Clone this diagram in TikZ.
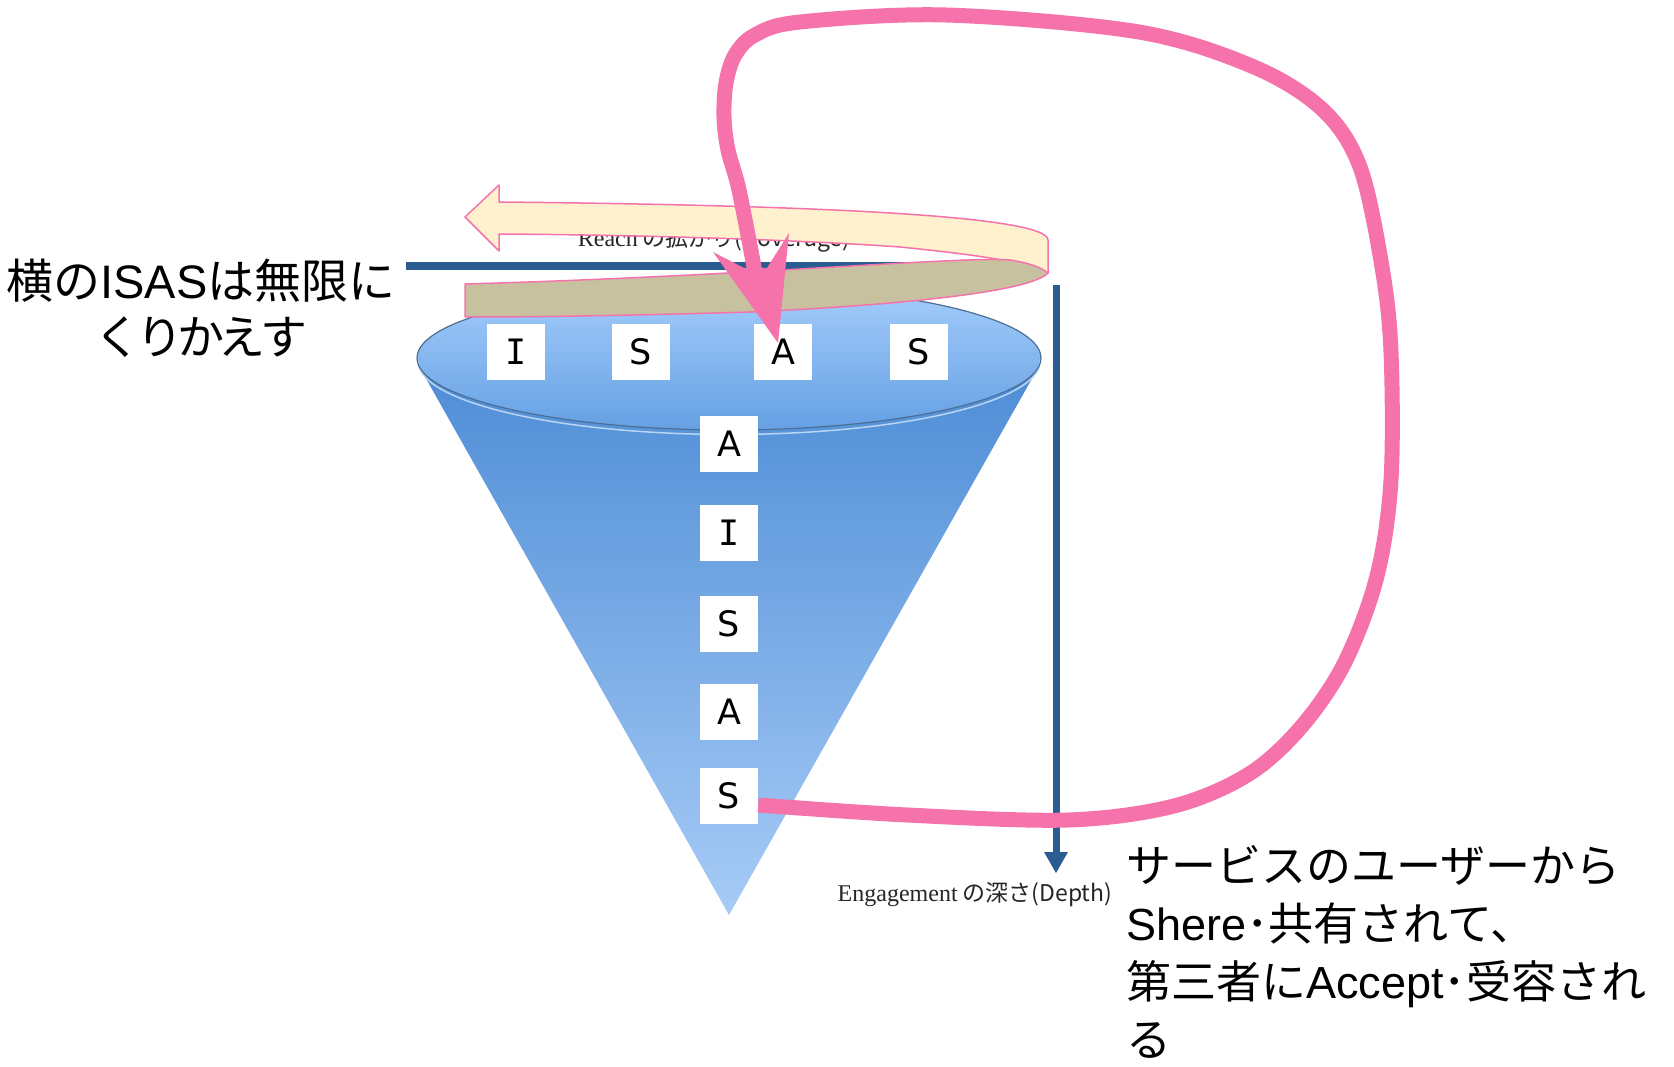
\documentclass[tikz,border=0pt]{standalone}
\usepackage{fontspec}
\setmainfont{Liberation Sans}
\newfontfamily\jp{Noto Sans CJK JP}
\newfontfamily\serifjp{Liberation Serif}
\newfontfamily\boxfont{DejaVu Sans}
\newfontfamily\boxmono{DejaVu Sans Mono}
\usetikzlibrary{calc}
\definecolor{pinkc}{HTML}{F573AA}
\definecolor{creamc}{HTML}{FFF1CD}
\definecolor{tanc}{HTML}{C8C1A0}
\definecolor{axisblue}{HTML}{2A5C91}
\definecolor{conetop}{HTML}{4E8DD6}
\definecolor{conebot}{HTML}{A7CBF6}
\definecolor{lidtop}{HTML}{A5CDFB}
\definecolor{lidbot}{HTML}{65A0E4}
\definecolor{rimc}{HTML}{4C6F96}
\begin{document}
\begin{tikzpicture}[x=1pt,y=-1pt,
  letterbox/.style={fill=white, minimum width=58pt, minimum height=56pt, inner sep=0pt,
    font=\boxfont\fontsize{35}{35}\selectfont},
  ribbon/.style={draw=pinkc, line width=1.5pt, line join=round},
  pinkline/.style={draw=pinkc, line width=15pt},
  axisline/.style={draw=axisblue, line width=8pt},
  smalllabel/.style={inner sep=0pt, text=black!85}
]
\useasboundingbox (0,0) rectangle (1674,1067);

% cone body
\shade[top color=conetop, bottom color=conebot] (419.6,367.3) -- (729,915) -- (1038.4,367.3) -- cycle;
% lid
\shade[top color=lidtop, bottom color=lidbot] (729,358) ellipse [x radius=312, y radius=72];
\begin{scope}
  \clip (400,362) rectangle (1060,450);
  \draw[white!55!lidbot, line width=1.5pt] (729,361.5) ellipse [x radius=311, y radius=73];
\end{scope}
\draw[rimc, line width=1.2pt] (729,358) ellipse [x radius=312, y radius=72];

% letters
\node[letterbox] (t1) at (516,352) {\boxmono I};
\node[letterbox] (t2) at (641,352) {S};
\node[letterbox] (t3) at (783,352) {A};
\node[letterbox] (t4) at (919,352) {S};
\node[letterbox] (c1) at (729,444) {A};
\node[letterbox] (c2) at (729,533) {\boxmono I};
\node[letterbox] (c3) at (729,624) {S};
\node[letterbox] (c4) at (729,712) {A};
\node[letterbox] (c5) at (729,796) {S};

% axes
\coordinate (hx0) at (406,266);
\coordinate (hx1) at (998,266);
\draw[axisline] (hx0) -- (hx1);
\node[smalllabel, anchor=base] (reach) at (714,247)
  {{\serifjp\fontsize{24}{24}\selectfont Reach}\hspace{5pt}{\jp\fontsize{23}{23}\selectfont の拡がり(Coverage)}};
\coordinate (vy0) at (1056,285);
\coordinate (vy1) at (1056,856);
\draw[axisblue, line width=7pt] (vy0) -- (vy1);
\fill[axisblue] (1044,852) -- (1068,852) -- (1056,873) -- cycle;
\node[smalllabel] (engage) at (975,895)
  {{\serifjp\fontsize{24}{24}\selectfont Engagement}\hspace{5pt}{\jp\fontsize{23}{23}\selectfont の深さ(Depth)}};

% ribbon
\filldraw[ribbon, fill=creamc] (465,217) -- (499,185) -- (499,202)
  .. controls (800,205) and (1048,215) .. (1048,240) -- (1048,273)
  .. controls (1025,262) and (980,255) .. (900,247)
  .. controls (800,240) and (650,235) .. (499,234) -- (499,251) -- cycle;
\filldraw[ribbon, fill=tanc] (465,284)
  .. controls (750,276) and (960,256) .. (1010,260)
  .. controls (1030,263) and (1042,268) .. (1048,273)
  .. controls (1030,292) and (900,305) .. (750,312)
  .. controls (650,315) and (550,317) .. (465,317) -- cycle;

% pink loop
\coordinate (ptip) at (778,343);
\draw[pinkline] plot[smooth, tension=0.55] coordinates {([yshift=-9pt]c5.east) (907,815) (1068,820) (1174,806) (1249,774) (1302,726) (1345,662) (1377,576) (1391,480) (1391,352) (1382,267) (1360,167) (1323,110) (1254,67) (1139,32) (946,15) (800,22) (755,35) (735,55) (726,83) (724,117) (728,150) (739,190) (755,272)};
\fill[pinkc] (713,252) -- (744,268) -- (767,268) -- (789,233) -- (ptip) -- cycle;

% texts
\node[font=\fontsize{47}{56}\selectfont, align=center] (lefttext) at (201,308)
  {{\jp 横の}ISAS{\jp は無限に}\\{\jp\addfontfeature{LetterSpace=-12}くりかえす}};
\node[font=\fontsize{45}{58}\selectfont, align=left, anchor=north west, inner sep=0pt] (righttext) at (1126,845)
  {{\jp サービスのユーザーから}\\Shere{\jp ･共有されて、}\\{\jp 第三者に}Accept{\jp ･受容され}\\{\jp る}};
\end{tikzpicture}
\end{document}
